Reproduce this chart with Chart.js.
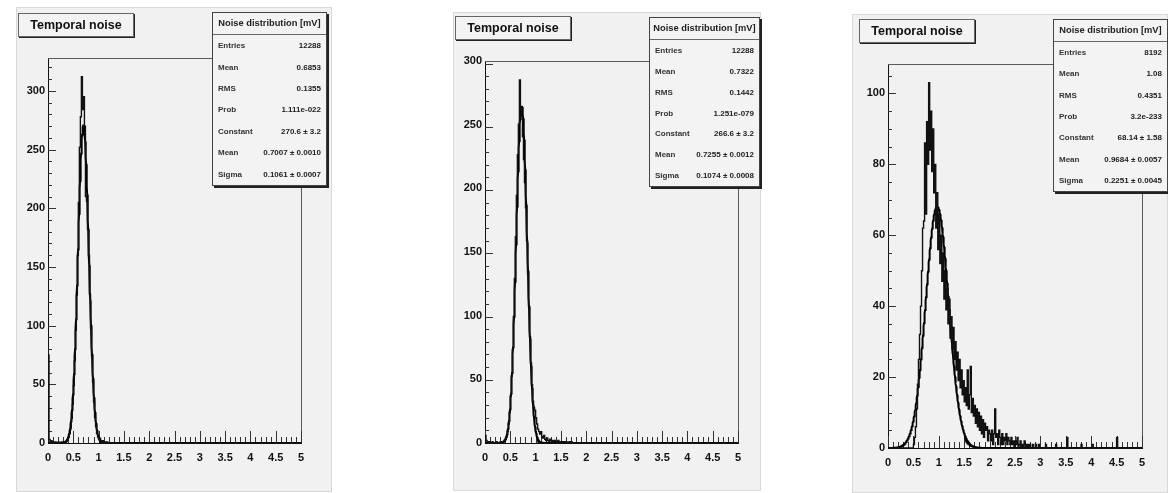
<!DOCTYPE html>
<html>
<head>
<meta charset="utf-8">
<title>Temporal noise</title>
<script src="https://cdn.jsdelivr.net/npm/chart.js@4.4.0/dist/chart.umd.min.js"></script>
<style>
  html, body { margin: 0; padding: 0; background: #fff; }
  body { width: 1168px; height: 493px; position: relative; overflow: hidden; font-family: "Liberation Sans", Arial, sans-serif; }
  .pad { position: absolute; background: #f1f1f1; box-shadow: inset 0 0 0 1px #d9d9d9; }
  .pad canvas { position: absolute; left: 0; top: 0; }
  .title { position: absolute; box-sizing: border-box; height: 24px; width: 116px; background: #f3f3f3;
           border: 1px solid #666; box-shadow: 1px 1px 0 #222; color: #111;
           font: bold 12.5px "Liberation Sans", Arial, sans-serif; line-height: 22px; text-align: center; }
  .stats { position: absolute; box-sizing: border-box; background: #f3f3f3; border: 1px solid #444;
           box-shadow: 2px 2px 0 #222; display: flex; flex-direction: column; color: #222; }
  .stats .hd { height: 21px; flex: none; border-bottom: 1px solid #666; text-align: center;
               font: bold 9.3px "Liberation Sans", Arial, sans-serif; line-height: 21px; white-space: nowrap; }
  .stats .row { flex: 1; display: flex; justify-content: space-between; align-items: center; padding: 0 5px;
                font: bold 8px "Liberation Sans", Arial, sans-serif; white-space: nowrap; }
  .stats .row span:first-child { color: #333; }
</style>
</head>
<body>
<script>
// histogram bins: 0.02 mV wide, counts listed from the first edge of each array
const binWidth = 0.02;
const xTickLabels = ['0', '0.5', '1', '1.5', '2', '2.5', '3', '3.5', '4', '4.5', '5'];

const hist1Start = 0;
const hist1 = [75, 3, 1, 2, 0, 1, 0, 1, 0, 0, 1, 0, 0, 1, 0, 0, 1, 1, 2, 3,
  5, 8, 13, 21, 33, 49, 70, 96, 126, 160, 205, 252, 278, 312, 284, 295, 270, 210, 206, 182,
  160, 127, 98, 74, 52, 35, 22, 14, 8, 5, 3, 4, 2, 1, 2, 0, 1, 0, 1, 0];

const hist2Start = 0;
const hist2 = [6, 2, 1, 0, 1, 0, 0, 1, 0, 0, 0, 1, 0, 0, 0, 1, 0, 1, 1, 2,
  3, 5, 9, 15, 24, 37, 53, 74, 100, 130, 163, 196, 228, 252, 287, 264, 258, 242, 224, 206,
  186, 160, 134, 108, 84, 63, 46, 33, 28, 26, 20, 15, 11, 9, 7, 9, 5, 4, 6, 3,
  2, 4, 2, 1, 3, 2, 1, 2, 1, 2, 1, 0, 2, 1, 0, 1, 1, 0, 1, 0,
  1, 0, 0, 1, 0, 1];

const hist3Start = 0.48;
const hist3 = [0, 1, 3, 6, 11, 18, 25, 32, 40, 50, 62, 64, 86, 66, 92, 80, 103, 84, 95, 78,
  90, 72, 80, 62, 72, 56, 66, 52, 60, 47, 55, 42, 50, 39, 45, 35, 42, 31, 37, 28,
  34, 25, 30, 22, 27, 19, 25, 17, 22, 15, 19, 13, 17, 12, 22, 11, 15, 23, 10, 14,
  9, 12, 7, 11, 6, 10, 5, 9, 4, 8, 3, 7, 5, 6, 2, 5, 4, 2, 5, 1,
  4, 11, 3, 4, 1, 5, 3, 1, 4, 1, 3, 2, 4, 1, 3, 2, 1, 3, 1, 2,
  0, 2, 1, 3, 0, 1, 2, 0, 1, 0, 2, 1, 0, 1, 0, 1, 0, 0, 1, 0,
  0, 1, 0, 0, 1, 0, 0];
// isolated single bins further out in the tail
const tail3Edges = [3.10, 3.30, 3.52, 3.80, 4.02, 4.50];
const tail3Counts = [1, 1, 3, 1, 1, 3];

// gaussian fit results
const fitConstant = [270.6, 266.6, 68.14];
const fitConstantErr = ['3.2', '3.2', '1.58'];
const fitMean = [0.7007, 0.7255, 0.9684];
const fitMeanErr = ['0.0010', '0.0012', '0.0057'];
const fitSigma = [0.1061, 0.1074, 0.2251];
const fitSigmaErr = ['0.0007', '0.0008', '0.0045'];

// histogram statistics
const entries = ['12288', '12288', '8192'];
const histMean = ['0.6853', '0.7322', '1.08'];
const histRms = ['0.1355', '0.1442', '0.4351'];
const fitProb = ['1.111e-022', '1.251e-079', '3.2e-233'];

const yMax = [328, 302, 108.3];
const yMajor = [50, 50, 20];
const yMinor = [10, 10, 5];
const yTickLabels = [
  ['0', '50', '100', '150', '200', '250', '300'],
  ['0', '50', '100', '150', '200', '250', '300'],
  ['0', '20', '40', '60', '80', '100']
];

// pad boxes on the page and the plot frame inside each pad
const pads = [
  { left: 16,  top: 7,  w: 316, h: 485, area: { left: 32, top: 51, right: 285, bottom: 436 },
    title: { left: 18, top: 13 },  stats: { left: 212, top: 12, w: 115, h: 174 } },
  { left: 453, top: 12, w: 308, h: 479, area: { left: 32, top: 49, right: 285, bottom: 431 },
    title: { left: 455, top: 16 }, stats: { left: 649, top: 17, w: 111, h: 170 } },
  { left: 852, top: 14, w: 316, h: 479, area: { left: 36, top: 50, right: 290, bottom: 434 },
    title: { left: 859, top: 19 }, stats: { left: 1053, top: 19, w: 115, h: 173 } }
];

// each point holds its bin's count until the next edge (stepped 'before')
function histPoints(start, counts, sparseEdges, sparseCounts) {
  const pts = [{ x: 0, y: 0 }];
  counts.forEach((c, i) => pts.push({ x: start + i * binWidth, y: c }));
  pts.push({ x: start + counts.length * binWidth, y: 0 });
  (sparseEdges || []).forEach((e, i) => {
    pts.push({ x: e, y: sparseCounts[i] });
    pts.push({ x: e + binWidth, y: 0 });
  });
  pts.push({ x: 5, y: 0 });
  return pts;
}

function fitPoints(i) {
  const pts = [];
  for (let k = 0; k <= 1000; k++) {
    const x = k * 0.005;
    const z = (x - fitMean[i]) / fitSigma[i];
    pts.push({ x: x, y: fitConstant[i] * Math.exp(-0.5 * z * z) });
  }
  return pts;
}

// top/right frame edges and the inward tick marks
const rootFrame = {
  id: 'rootFrame',
  beforeDatasetsDraw(chart, args, opts) {
    const { ctx, chartArea: a, scales: { x, y } } = chart;
    ctx.save();
    ctx.lineWidth = 1;
    ctx.strokeStyle = '#5a5a5a';
    ctx.beginPath();
    ctx.moveTo(a.left, a.top + 0.5);
    ctx.lineTo(a.right + 0.5, a.top + 0.5);
    ctx.lineTo(a.right + 0.5, a.bottom);
    ctx.stroke();

    ctx.strokeStyle = '#333';
    ctx.beginPath();
    for (let k = 0; k <= 50; k++) {
      const px = Math.round(x.getPixelForValue(k / 10)) + 0.5;
      const len = k % 5 === 0 ? 12 : 6;
      ctx.moveTo(px, a.bottom);
      ctx.lineTo(px, a.bottom - len);
    }
    const ratio = opts.major / opts.minor;
    for (let k = 1; k * opts.minor < y.max; k++) {
      const py = Math.round(y.getPixelForValue(k * opts.minor)) + 0.5;
      const len = k % ratio === 0 ? 8 : 4;
      ctx.moveTo(a.left, py);
      ctx.lineTo(a.left + len, py);
    }
    ctx.stroke();
    ctx.restore();
  }
};

const tickFont = { family: 'Liberation Sans', size: 11, weight: 'bold' };
const histograms = [
  histPoints(hist1Start, hist1),
  histPoints(hist2Start, hist2),
  histPoints(hist3Start, hist3, tail3Edges, tail3Counts)
];
const statLabels = ['Entries', 'Mean', 'RMS', 'Prob', 'Constant', 'Mean', 'Sigma'];

pads.forEach((p, i) => {
  const pad = document.createElement('div');
  pad.className = 'pad';
  Object.assign(pad.style, { left: p.left + 'px', top: p.top + 'px', width: p.w + 'px', height: p.h + 'px' });
  const canvas = document.createElement('canvas');
  canvas.width = p.w;
  canvas.height = p.h;
  pad.appendChild(canvas);
  document.body.appendChild(pad);

  const xAxisH = 30;
  new Chart(canvas, {
    type: 'line',
    data: {
      datasets: [
        { data: histograms[i], borderColor: '#111', borderWidth: 1.4, stepped: 'before', pointRadius: 0, fill: false },
        { data: fitPoints(i), borderColor: '#000', borderWidth: 2, pointRadius: 0, fill: false, tension: 0 }
      ]
    },
    options: {
      responsive: false,
      animation: false,
      parsing: false,
      layout: { padding: { left: 0, top: p.area.top, right: p.w - p.area.right, bottom: p.h - p.area.bottom - xAxisH } },
      plugins: { legend: { display: false }, tooltip: { enabled: false }, rootFrame: { major: yMajor[i], minor: yMinor[i] } },
      scales: {
        x: {
          type: 'linear', min: 0, max: 5,
          grid: { display: false, drawTicks: false },
          border: { display: true, color: '#111', width: 1 },
          ticks: { stepSize: 0.5, autoSkip: false, maxRotation: 0, includeBounds: false, padding: 8,
                   color: '#111', font: tickFont, callback: (v, idx) => xTickLabels[idx] },
          afterFit: s => { s.height = xAxisH; }
        },
        y: {
          type: 'linear', min: 0, max: yMax[i],
          grid: { display: false, drawTicks: false },
          border: { display: true, color: '#111', width: 1 },
          ticks: { stepSize: yMajor[i], includeBounds: false, padding: 3, color: '#111', font: tickFont,
                   callback: (v, idx) => yTickLabels[i][idx] },
          afterFit: s => { s.width = p.area.left; }
        }
      }
    },
    plugins: [rootFrame]
  });

  const title = document.createElement('div');
  title.className = 'title';
  title.textContent = 'Temporal noise';
  Object.assign(title.style, { left: p.title.left + 'px', top: p.title.top + 'px' });
  document.body.appendChild(title);

  const stats = document.createElement('div');
  stats.className = 'stats';
  Object.assign(stats.style, { left: p.stats.left + 'px', top: p.stats.top + 'px', width: p.stats.w + 'px', height: p.stats.h + 'px' });
  const hd = document.createElement('div');
  hd.className = 'hd';
  hd.textContent = 'Noise distribution [mV]';
  stats.appendChild(hd);
  const values = [
    entries[i], histMean[i], histRms[i], fitProb[i],
    fitConstant[i] + ' \u00b1 ' + fitConstantErr[i],
    fitMean[i] + ' \u00b1 ' + fitMeanErr[i],
    fitSigma[i] + ' \u00b1 ' + fitSigmaErr[i]
  ];
  statLabels.forEach((lab, r) => {
    const row = document.createElement('div');
    row.className = 'row';
    const a = document.createElement('span');
    a.textContent = lab;
    const b = document.createElement('span');
    b.textContent = values[r];
    row.appendChild(a);
    row.appendChild(b);
    stats.appendChild(row);
  });
  document.body.appendChild(stats);
});
</script>
</body>
</html>
